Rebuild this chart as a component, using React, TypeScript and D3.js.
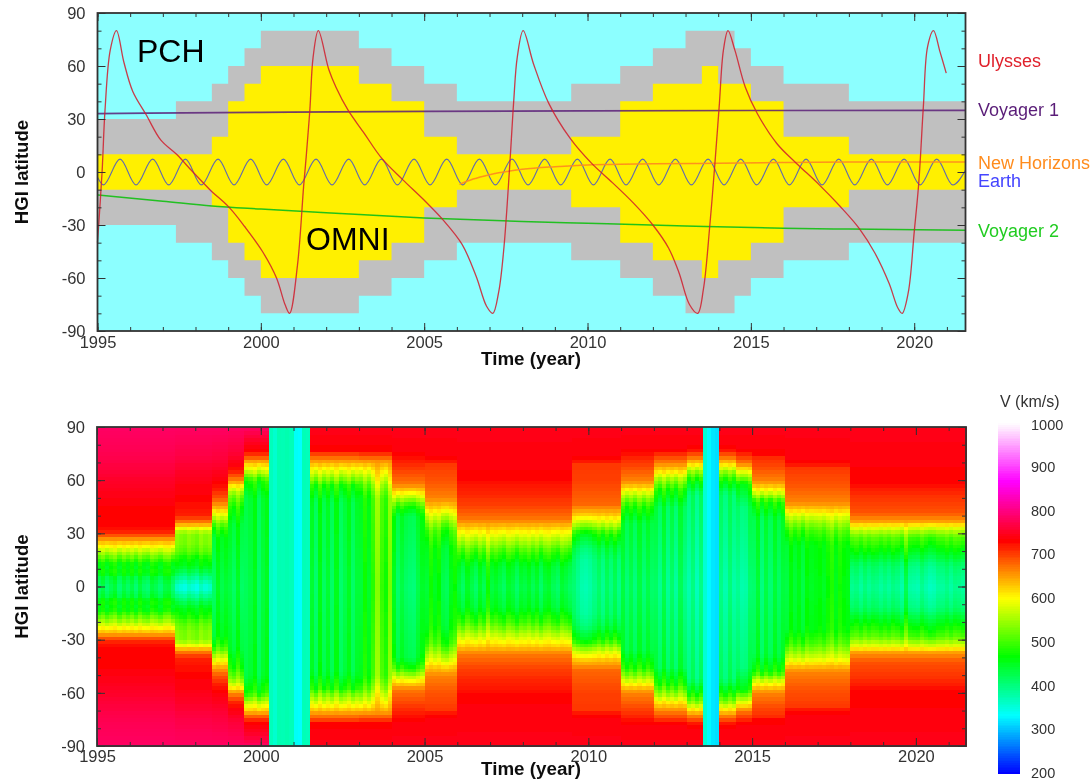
import React, { useEffect, useRef } from "react";
import * as d3 from "d3";

const START = 1995;
const END_TOP = 2021.57;
const END_BOTTOM = 2021.53;

// region boundaries, top panel (symmetric about the equator)
const pchYears = [1995, 1997.4, 1998.5, 1999, 1999.5, 2000, 2003, 2004, 2005, 2006, 2009.5, 2011, 2012, 2013, 2014.5, 2015, 2016, 2018, END_TOP];
const pchLats = [30, 40, 50, 60, 70, 80, 70, 60, 50, 40, 50, 60, 70, 80, 70, 60, 50, 40, 40];
const omniYears = [1995, 1998.5, 1999, 1999.5, 2000, 2003, 2004, 2005, 2006, 2009.5, 2011, 2012, 2013.5, 2014, 2015, 2016, 2018, END_TOP];
const omniLats = [10, 20, 40, 50, 60, 50, 40, 20, 10, 20, 40, 50, 60, 50, 40, 20, 10, 10];

const ulyssesYears = [
  1995, 1995.14, 1995.23, 1995.39, 1995.58, 1995.81, 1996.08, 1996.49, 1996.94, 1997.42, 1997.9, 1998.44, 1999.03, 1999.51, 2000.05, 2000.48, 2000.74, 2000.88,
  2001.12, 2001.31, 2001.39, 2001.5, 2001.6, 2001.76, 2002.08, 2002.3, 2002.67, 2003.16, 2003.69, 2004.34, 2004.98, 2005.57, 2006.16, 2006.59, 2006.91, 2007.1,
  2007.28, 2007.44, 2007.64, 2007.74, 2007.85, 2008.03, 2008.35, 2008.81, 2009.47, 2010.12, 2010.76, 2011.4, 2012, 2012.48, 2012.8, 2013.12, 2013.37,
  2013.55, 2013.74, 2013.9, 2014.03, 2014.16, 2014.3, 2014.51, 2014.83, 2015.2, 2015.8, 2016.39, 2017.08, 2017.73, 2018.32, 2018.8, 2019.23, 2019.5, 2019.63,
  2019.82, 2020, 2020.14, 2020.28, 2020.41, 2020.59, 2020.79, 2020.98,
];
const ulyssesLats = [
  -40, 0, 35, 69, 80, 62, 45.6, 32.4, 18, 10, 0.4, -10, -20, -31, -45, -60, -75, -80,
  -53, -8, 9, 35, 65, 80, 58, 48, 35, 22, 8, -4.3, -15.6, -27, -41, -59, -76, -80,
  -68, -43, 10, 40, 65, 80, 61, 39, 19, 5, -6, -17.5, -30, -43, -57, -75, -80,
  -66, -31, 5, 37, 69, 80, 69, 48, 33, 16, 5, -7, -19.4, -32, -46, -63, -77, -80,
  -68, -34, -6, 37, 71, 80, 68, 56,
];

const voyager1Years = [1995, 2000, 2005, 2010, 2015, 2021.57];
const voyager1Lats = [33, 33.8, 34.3, 34.6, 34.8, 34.9];
const voyager2Years = [1995, 1997, 1998.5, 2000, 2002, 2005, 2008, 2010, 2013, 2016, 2018, 2021.57];
const voyager2Lats = [-13, -16.5, -19.3, -21, -23, -26, -28, -29, -30.5, -31.8, -32.3, -33];
const horizonsYears = [2006.08, 2006.5, 2007, 2008, 2009, 2010, 2012, 2014, 2016, 2018, 2021.57];
const horizonsLats = [-7, -4, -1.5, 1.5, 3, 4, 4.6, 5, 5.4, 5.6, 5.7];

// Earth's heliographic latitude, turning points
const earthYears = [
  1995, 1995.18, 1995.69, 1996.18, 1996.69, 1997.18, 1997.69, 1998.18, 1998.69, 1999.18, 1999.69, 2000.18, 2000.69, 2001.18, 2001.69,
  2002.18, 2002.69, 2003.18, 2003.69, 2004.18, 2004.69, 2005.18, 2005.69, 2006.18, 2006.69, 2007.18, 2007.69, 2008.18, 2008.69,
  2009.18, 2009.69, 2010.18, 2010.69, 2011.18, 2011.69, 2012.18, 2012.69, 2013.18, 2013.69, 2014.18, 2014.69, 2015.18, 2015.69,
  2016.18, 2016.69, 2017.18, 2017.69, 2018.18, 2018.69, 2019.18, 2019.69, 2020.18, 2020.69, 2021.18, 2021.57,
];
const earthLats = [
  -3, -7.3, 7.3, -7.3, 7.3, -7.3, 7.3, -7.3, 7.3, -7.3, 7.3, -7.3, 7.3, -7.3, 7.3,
  -7.3, 7.3, -7.3, 7.3, -7.3, 7.3, -7.3, 7.3, -7.3, 7.3, -7.3, 7.3, -7.3, 7.3,
  -7.3, 7.3, -7.3, 7.3, -7.3, 7.3, -7.3, 7.3, -7.3, 7.3, -7.3, 7.3, -7.3, 7.3,
  -7.3, 7.3, -7.3, 7.3, -7.3, 7.3, -7.3, 7.3, -7.3, 7.3, -7.3, 1,
];

const yearTicks = [1995, 2000, 2005, 2010, 2015, 2020];
const yearMinor = d3.range(1995, 2022);
const latTicks = [-90, -60, -30, 0, 30, 60, 90];
const latMinor = d3.range(-90, 91, 10);

const seriesLabels = ["Ulysses", "Voyager 1", "New Horizons", "Earth", "Voyager 2"];
const seriesColors = ["#e0202c", "#5a1e78", "#ff8c1e", "#4444ff", "#22cc22"];
const seriesLabelY = [67, 116, 169, 187, 237];

// speed map: a latitude profile [|lat|, V] for each stretch of time
const segmentStarts = [1995, 1997.375, 1998.5, 1999, 1999.5, 2000.25, 2001.5, 2003, 2004, 2005, 2006, 2009.5, 2011, 2012, 2013, 2013.5, 2014, 2014.5, 2015, 2016, 2018];
const segmentProfiles = [
  [[0, 410], [5, 430], [8, 465], [12, 450], [16, 500], [20, 555], [23, 600], [26, 640], [29, 690], [32, 728], [45, 735], [60, 755], [75, 775], [90, 785]],
  [[0, 345], [4, 380], [8, 420], [12, 455], [16, 470], [20, 510], [25, 530], [30, 535], [33, 590], [36, 660], [40, 715], [50, 733], [60, 745], [75, 770], [90, 785]],
  [[0, 425], [28, 450], [34, 490], [40, 575], [45, 640], [50, 690], [58, 733], [70, 760], [90, 785]],
  [[0, 420], [35, 440], [46, 480], [52, 530], [56, 590], [60, 660], [66, 725], [75, 760], [90, 785]],
  [[0, 420], [50, 430], [60, 470], [65, 560], [70, 630], [74, 700], [77, 733], [84, 760], [90, 785]],
  [[0, 365], [90, 365]],
  [[0, 420], [48, 430], [57, 470], [62, 540], [67, 600], [71, 650], [75, 700], [77, 733], [90, 745]],
  [[0, 430], [50, 445], [58, 490], [63, 550], [68, 610], [73, 680], [77, 733], [90, 745]],
  [[0, 420], [40, 440], [46, 490], [50, 560], [54, 620], [58, 670], [66, 700], [73, 725], [78, 740], [90, 745]],
  [[0, 430], [22, 445], [32, 480], [40, 560], [45, 620], [50, 665], [60, 690], [70, 705], [72, 735], [90, 745]],
  [[0, 420], [12, 440], [20, 490], [27, 560], [32, 610], [38, 670], [46, 700], [56, 720], [62, 735], [90, 745]],
  [[0, 400], [15, 410], [22, 430], [30, 480], [36, 570], [41, 630], [47, 680], [60, 700], [70, 705], [72, 735], [90, 745]],
  [[0, 410], [36, 430], [46, 480], [52, 560], [56, 620], [60, 665], [68, 695], [73, 715], [76, 735], [90, 745]],
  [[0, 400], [45, 425], [55, 480], [61, 550], [65, 610], [70, 665], [75, 710], [77, 735], [90, 745]],
  [[0, 385], [52, 410], [60, 470], [65, 540], [69, 610], [73, 670], [77, 720], [79, 735], [90, 745]],
  [[0, 345], [90, 345]],
  [[0, 385], [52, 410], [60, 470], [65, 540], [69, 610], [73, 670], [77, 720], [79, 735], [90, 745]],
  [[0, 400], [45, 425], [58, 480], [62, 550], [66, 610], [70, 670], [75, 715], [77, 735], [90, 745]],
  [[0, 420], [38, 435], [48, 480], [52, 560], [56, 620], [60, 665], [68, 695], [73, 710], [75, 735], [90, 745]],
  [[0, 440], [24, 450], [32, 490], [40, 570], [44, 625], [48, 665], [58, 690], [68, 705], [70, 735], [90, 745]],
  [[0, 385], [12, 410], [20, 460], [28, 510], [33, 580], [37, 650], [42, 690], [52, 710], [60, 733], [90, 745]],
];

// vertical stripes seen in the map, km/s on top of the profile, eight per year from 1995
const stripeOffsets = [
  0, 25, -10, 15, 35, -10, 25, 0, // 1995
  25, -10, 30, 0, -10, 30, 15, -10, // 1996
  25, 30, -10, 15, 0, -10, 15, 0, // 1997
  -15, 20, 0, 15, -20, 30, 0, 20, // 1998
  15, -10, 35, -10, 0, 15, 45, -15, // 1999
  20, 40, 5, -10, 12, 10, 14, 8, // 2000
  -40, -45, 8, 5, 30, -15, 50, -5, // 2001
  30, -10, 45, -15, 10, 40, -10, 25, // 2002
  10, 60, 20, 80, 150, 90, 60, 140, // 2003
  40, -15, 15, -10, -20, -25, 10, 35, // 2004
  10, 60, 25, 50, -5, -15, 30, 55, // 2005
  20, -10, 35, 10, -15, 30, 0, 70, // 2006
  15, 30, 10, -10, 30, 15, -15, 20, // 2007
  10, 30, 0, 25, -15, 20, 30, 0, // 2008
  -15, 25, 10, -10, 10, -15, -35, -40, // 2009
  -30, -10, 15, -15, 25, -5, 30, -10, // 2010
  30, -10, 20, -15, 30, -10, 25, 0, // 2011
  20, -15, 35, -20, 15, -25, 30, -10, // 2012
  -15, 20, -25, 15, 15, -20, -35, -40, // 2013
  15, -15, 25, -10, -15, -35, -30, 10, // 2014
  -15, 25, -30, 15, -20, 25, -10, 20, // 2015
  -15, 25, -5, 20, -15, 30, 10, 20, // 2016
  30, 10, 40, 60, 15, 50, 30, 20, // 2017
  5, 15, -5, 20, 0, 15, 10, -5, // 2018
  10, -5, 15, 5, -15, 50, -10, -15, // 2019
  -20, 5, -15, -30, -25, -5, -5, 10, // 2020
  -10, 10, 5, -5, -10, // 2021
];
const STRIPE_STEP = 0.125;
const STRIPE_GAIN = 0.7;
const LAT_STEP = 2;

const colorStops = [200, 333, 467, 600, 733, 867, 1000];
const colorValues = ["#0000ff", "#00ffff", "#00ff00", "#ffff00", "#ff0000", "#ff00ff", "#ffffff"];
const colorbarTicks = [200, 300, 400, 500, 600, 700, 800, 900, 1000];

const FONT = "'Liberation Sans', Arial, sans-serif";

function speedAt(year: number, lat: number, offset: number) {
  const idx = d3.bisectRight(segmentStarts, year + 0.001) - 1;
  const profile = segmentProfiles[idx];
  const base = d3.scaleLinear().domain(profile.map(p => p[0])).range(profile.map(p => p[1]))(Math.abs(lat));
  const weight = Math.max(0, Math.min(1, (660 - base) / 160));
  return base + offset * STRIPE_GAIN * weight;
}

function drawFrame(g: any, x: any, y: any, titleGap: number, labelPad: number) {
  const [left, right] = x.range();
  const [bottom, top] = y.range();
  const bottomAxis = (vals: number[], size: number, labels: boolean) =>
    d3.axisBottom(x).tickValues(vals).tickSize(-size).tickPadding(labelPad).tickFormat(labels ? (d: any) => String(d) : () => "");
  const leftAxis = (vals: number[], size: number, labels: boolean) =>
    d3.axisLeft(y).tickValues(vals).tickSize(-size).tickPadding(12).tickFormat(labels ? (d: any) => String(d) : () => "");
  const topAxis = (vals: number[], size: number) => d3.axisTop(x).tickValues(vals).tickSize(-size).tickFormat(() => "");
  const rightAxis = (vals: number[], size: number) => d3.axisRight(y).tickValues(vals).tickSize(-size).tickFormat(() => "");

  const add = (axis: any, tx: number, ty: number) => {
    const a = g.append("g").attr("transform", `translate(${tx},${ty})`).call(axis);
    a.select(".domain").remove();
    a.selectAll("line").attr("stroke", "#333").attr("stroke-width", 1);
    a.selectAll("text").attr("font-family", FONT).attr("font-size", 16.5).attr("fill", "#333");
  };
  add(bottomAxis(yearMinor, 4, false), 0, bottom);
  add(bottomAxis(yearTicks, 8, true), 0, bottom);
  add(leftAxis(latMinor, 4, false), left, 0);
  add(leftAxis(latTicks, 8, true), left, 0);
  add(topAxis(yearMinor, 4), 0, top);
  add(topAxis(yearTicks, 8), 0, top);
  add(rightAxis(latMinor, 4), right, 0);
  add(rightAxis(latTicks, 8), right, 0);

  g.append("rect").attr("x", left).attr("y", top).attr("width", right - left).attr("height", bottom - top)
    .attr("fill", "none").attr("stroke", "#333").attr("stroke-width", 1.8);

  g.append("text").text("Time (year)").attr("x", (left + right) / 2 - 0.5).attr("y", bottom + titleGap)
    .attr("text-anchor", "middle").attr("font-family", FONT).attr("font-weight", "bold").attr("font-size", 18.8).attr("fill", "#111");
  g.append("text").text("HGI latitude").attr("transform", `translate(28,${(top + bottom) / 2}) rotate(-90)`)
    .attr("text-anchor", "middle").attr("font-family", FONT).attr("font-weight", "bold").attr("font-size", 18.6).attr("fill", "#111");
}

export default function App() {
  const ref = useRef<SVGSVGElement>(null);

  useEffect(() => {
    const svg = d3.select(ref.current);
    svg.selectAll("*").remove();
    const defs = svg.append("defs");
    defs.append("filter").attr("id", "soft").attr("x", 0).attr("y", 0).attr("width", 1).attr("height", 1)
      .append("feGaussianBlur").attr("stdDeviation", 0.45);
    const root = svg.append("g").attr("filter", "url(#soft)");
    root.append("rect").attr("width", 1092).attr("height", 780).attr("fill", "#fff");

    // ---- top panel
    const x1 = d3.scaleLinear().domain([START, END_TOP]).range([97.5, 965.5]);
    const y1 = d3.scaleLinear().domain([-90, 90]).range([331, 13]);
    const top = root.append("g");
    top.append("rect").attr("x", 97.5).attr("y", 13).attr("width", 868).attr("height", 318).attr("fill", "#8cffff");

    const band = (years: number[], lats: number[], fill: string) => {
      const area = d3.area<number>()
        .x((_, i) => x1(years[i]))
        .y0(d => y1(d))
        .y1(d => y1(-d))
        .curve(d3.curveStepAfter);
      top.append("path").attr("d", area(lats)).attr("fill", fill);
    };
    band(pchYears, pchLats, "#c0c0c0");
    band(omniYears, omniLats, "#fff000");

    const track = (years: number[], lats: number[], color: string, width: number, opacity: number, curve: any) => {
      const line = d3.line<number>()
        .x((_, i) => x1(years[i]))
        .y(d => y1(d))
        .curve(curve);
      top.append("path").attr("d", line(lats)).attr("fill", "none").attr("stroke", color)
        .attr("stroke-width", width).attr("stroke-opacity", opacity);
    };
    track(earthYears, earthLats, "#3a48d8", 1.1, 0.8, d3.curveMonotoneX);
    track(voyager1Years, voyager1Lats, "#5a1e78", 1.7, 0.85, d3.curveMonotoneX);
    track(voyager2Years, voyager2Lats, "#18c018", 1.5, 0.95, d3.curveMonotoneX);
    track(horizonsYears, horizonsLats, "#ff8c1e", 1.5, 0.95, d3.curveMonotoneX);
    track(ulyssesYears, ulyssesLats, "#d01c2c", 1.3, 0.85, d3.curveCatmullRom.alpha(0.5));

    drawFrame(top, x1, y1, 34, 5);

    top.append("text").text("PCH").attr("x", 137).attr("y", 62).attr("font-family", FONT).attr("font-size", 32).attr("fill", "#000");
    top.append("text").text("OMNI").attr("x", 306).attr("y", 250).attr("font-family", FONT).attr("font-size", 32).attr("fill", "#000");

    top.selectAll(".series").data(seriesLabels).join("text").attr("class", "series")
      .text(d => d).attr("x", 978).attr("y", (_, i) => seriesLabelY[i])
      .attr("font-family", FONT).attr("font-size", 18).attr("fill", (_, i) => seriesColors[i]);

    // ---- bottom panel
    const x2 = d3.scaleLinear().domain([START, END_BOTTOM]).range([97, 966]);
    const y2 = d3.scaleLinear().domain([-90, 90]).range([746, 427]);
    const color = d3.scaleLinear<string>().domain(colorStops).range(colorValues).interpolate(d3.interpolateRgb);

    const cells: { year: number; lat: number; v: number }[] = [];
    stripeOffsets.forEach((offset, i) => {
      const year = START + i * STRIPE_STEP;
      if (year >= END_BOTTOM) return;
      for (let lat = -90; lat < 90; lat += LAT_STEP) {
        cells.push({ year, lat, v: speedAt(year, lat + LAT_STEP / 2, offset) });
      }
    });
    const bottom = root.append("g");
    bottom.append("g").attr("shape-rendering", "crispEdges").selectAll("rect").data(cells).join("rect")
      .attr("x", d => x2(d.year))
      .attr("y", d => y2(d.lat + LAT_STEP))
      .attr("width", d => x2(Math.min(d.year + STRIPE_STEP, END_BOTTOM)) - x2(d.year) + 0.6)
      .attr("height", y2(0) - y2(LAT_STEP) + 0.6)
      .attr("fill", d => color(d.v));

    drawFrame(bottom, x2, y2, 29, 4);

    // ---- colour bar
    const yBar = d3.scaleLinear().domain([200, 1000]).range([773, 423]);
    const bar = root.append("g");
    bar.append("g").attr("shape-rendering", "crispEdges").selectAll("rect").data(d3.range(200, 1000, 4)).join("rect")
      .attr("x", 998).attr("width", 22)
      .attr("y", d => yBar(d + 4))
      .attr("height", d => yBar(d) - yBar(d + 4) + 0.6)
      .attr("fill", d => color(d + 2));
    bar.selectAll(".lab").data(colorbarTicks).join("text").attr("class", "lab")
      .text(d => d).attr("x", 1031).attr("y", d => yBar(d) + 5 + (d === 1000 ? 2 : 0))
      .attr("font-family", FONT).attr("font-size", 14.5).attr("fill", "#333");
    bar.append("text").text("V (km/s)").attr("x", 1000).attr("y", 407)
      .attr("font-family", FONT).attr("font-size", 16).attr("fill", "#333");
  }, []);

  return <svg ref={ref} width={1092} height={780} style={{ position: "absolute", left: 0, top: 0 }} />;
}
